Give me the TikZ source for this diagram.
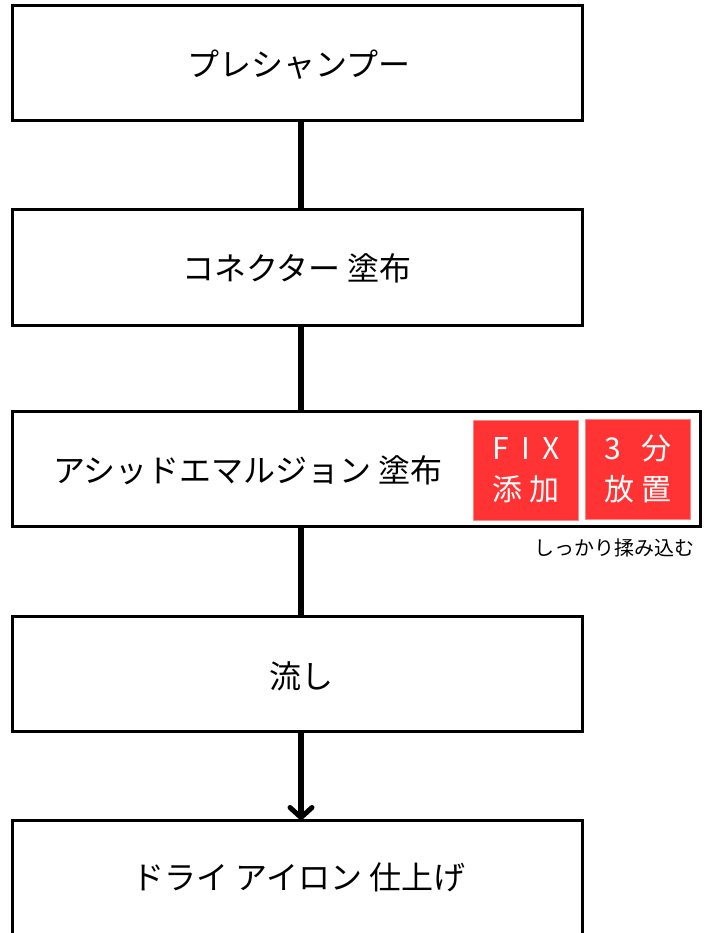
\documentclass[tikz,border=0pt]{standalone}
\usepackage{fontspec}
\setmainfont{Noto Sans CJK JP}
\usetikzlibrary{arrows.meta}
\definecolor{redbox}{HTML}{FF3333}
\begin{document}
\begin{tikzpicture}[x=1pt,y=-1pt,
  stepbox/.style={draw=black,line width=3pt,fill=white},
  conn/.style={line width=6pt},
  lbl/.style={font=\fontsize{32}{36}\selectfont,inner sep=0pt,anchor=center},
  redlbl/.style={fill=redbox,draw=redbox!60!white,line width=1pt,text=white,align=center,
     font=\fontsize{30}{41}\selectfont,inner sep=0pt,minimum width=105pt,minimum height=100pt}]
\useasboundingbox (0,0) rectangle (712,933);
\begin{scope}
\clip (0,0) rectangle (712,933);
\draw[stepbox] (12,6) rectangle (582,121);
\coordinate (b1t) at (301,6); \coordinate (b1b) at (301,121);
\draw[stepbox] (12,210) rectangle (582,325);
\coordinate (b2t) at (301,210); \coordinate (b2b) at (301,325);
\draw[stepbox] (12,411) rectangle (700,526);
\coordinate (b3t) at (301,411); \coordinate (b3b) at (301,526);
\draw[stepbox] (12,616) rectangle (582,731);
\coordinate (b4t) at (301,616); \coordinate (b4b) at (301,731);
\draw[stepbox] (12,820) rectangle (582,940);
\coordinate (b5t) at (301,820);
\end{scope}
\node[lbl] (t1) at (299,65) {プレシャンプー};
\node[lbl] (t2) at (297,268) {コネクター 塗布};
\node[lbl] (t3) at (248,470) {アシッドエマルジョン 塗布};
\node[lbl] (t4) at (301,676) {流し};
\node[lbl] (t5) at (299,877) {ドライ アイロン 仕上げ};
\node[redlbl] (fix) at (526,470) {F\hspace{0.4em}I\hspace{0.4em}X\\添\hspace{0.25em}加};
\node[redlbl] (wait) at (638,469) {3\hspace{0.65em}分\\放\hspace{0.25em}置};
\node[font=\fontsize{20}{22}\selectfont,inner sep=0pt,anchor=east] (note) at (695,548) {しっかり揉み込む};
\draw[conn] (b1b) -- (b2t);
\draw[conn] (b2b) -- (b3t);
\draw[conn] (b3b) -- (b4t);
\draw[conn,-{Straight Barb[length=10pt,width=22pt,line width=5pt,round]}] (b4b) -- (b5t);
\end{tikzpicture}
\end{document}
